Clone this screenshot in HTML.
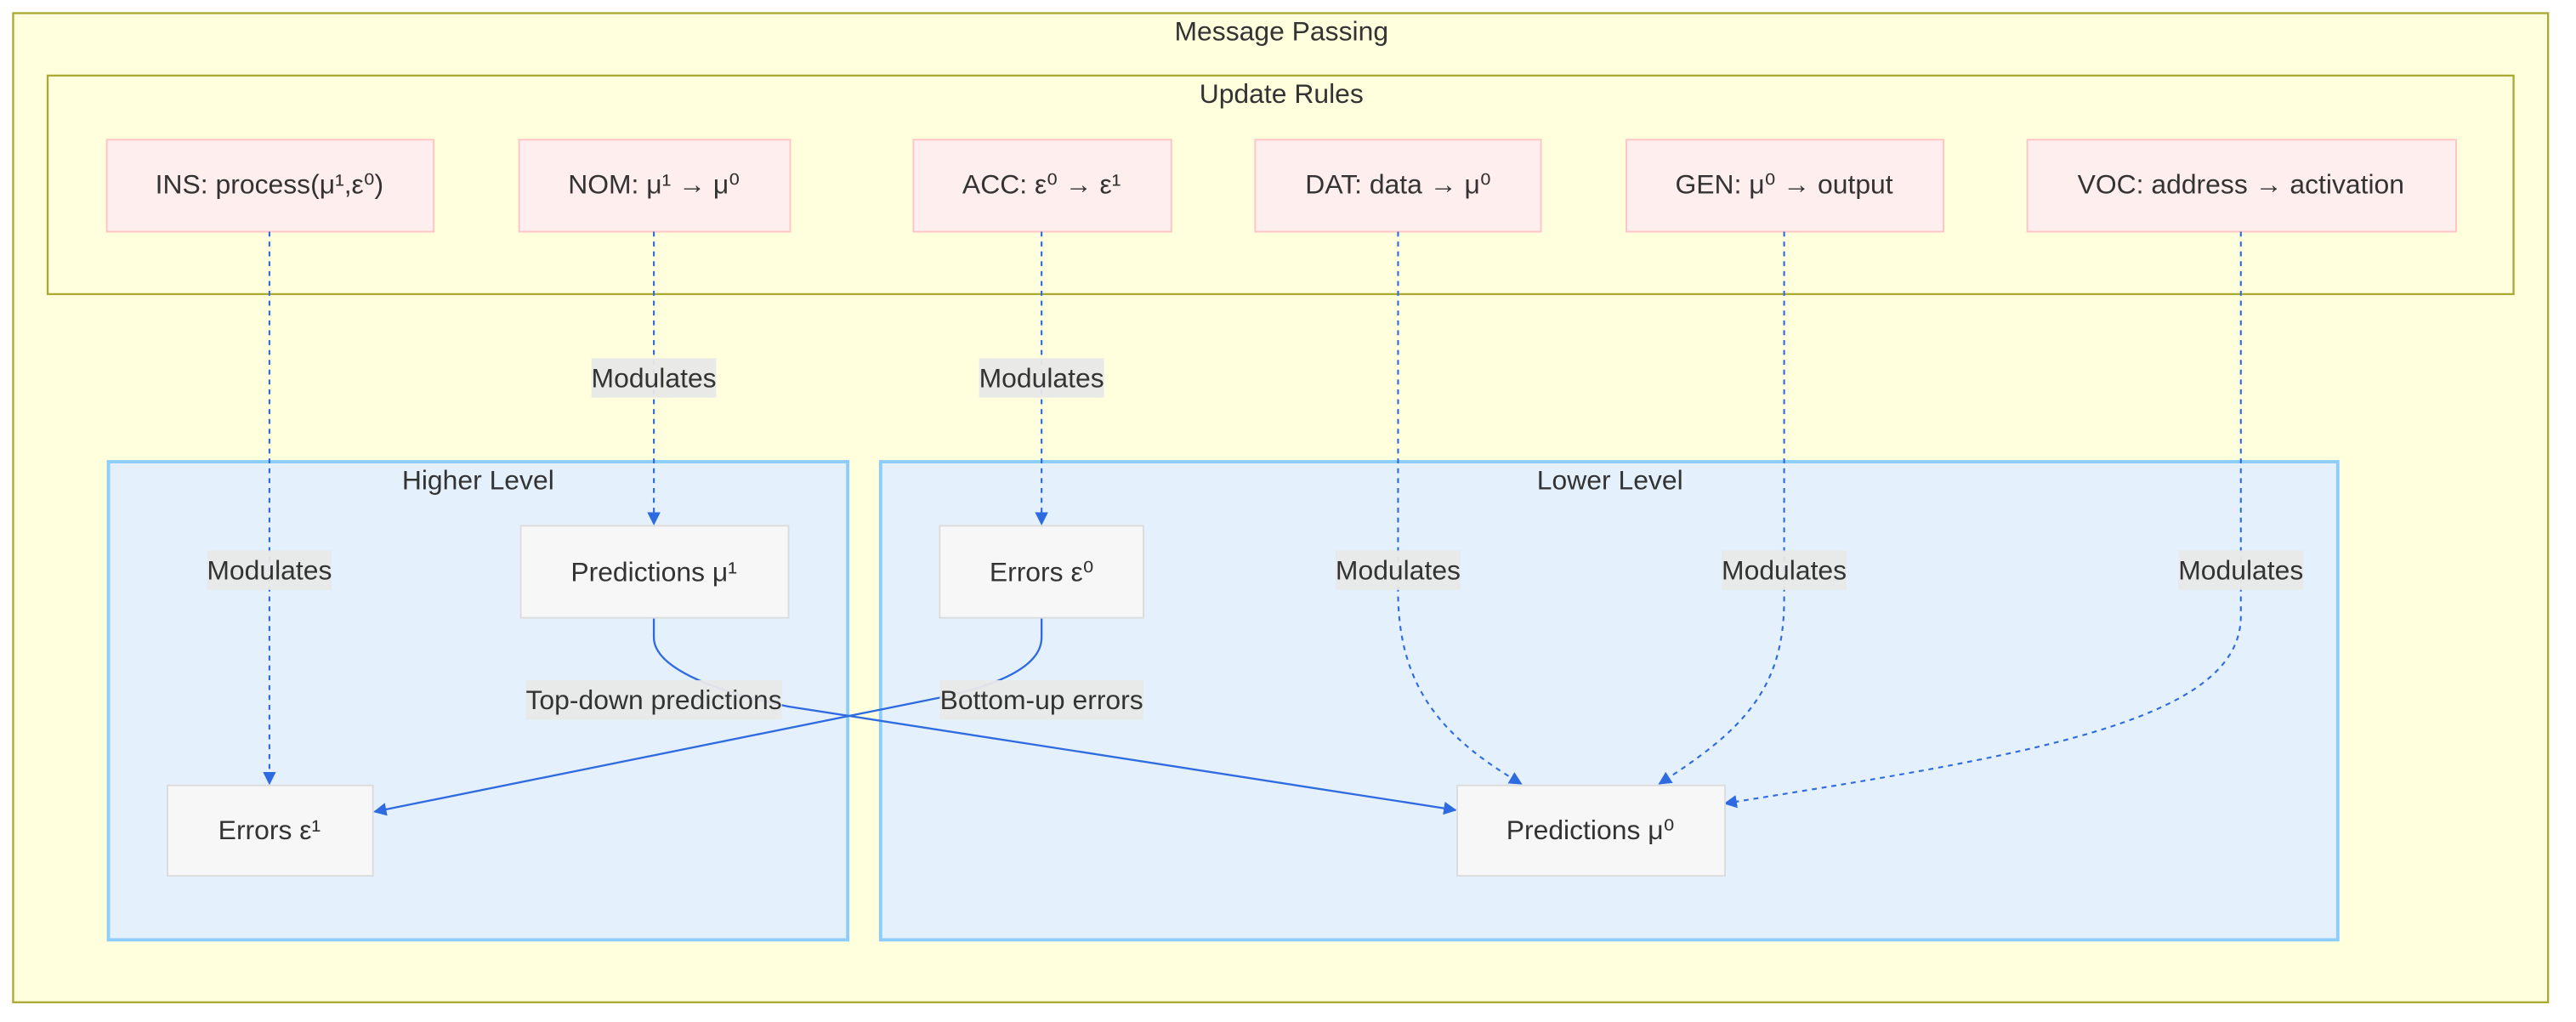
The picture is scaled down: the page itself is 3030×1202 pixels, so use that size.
<!DOCTYPE html>
<html><head><meta charset="utf-8"><style>
html,body{margin:0;padding:0;background:#fff;}
svg{display:block;}
text{font-family:"Liberation Sans",Arial,sans-serif;fill:#333;font-size:16.5px;text-anchor:middle;dominant-baseline:central;}
.cl{fill:#ffffde;stroke:#aaaa33;stroke-width:1.2;}
.lv{fill:#e4f1fd;stroke:#8ccdfb;stroke-width:2;}
.pk{fill:#ffeeee;stroke:#ffc4c4;stroke-width:1;}
.gy{fill:#f7f7f8;stroke:#dcdcdc;stroke-width:1;}
.lb{fill:#e8e8e8;opacity:0.95;}
.d{fill:none;stroke:#2f6be0;stroke-width:1.1;stroke-dasharray:3 3;}
.s{fill:none;stroke:#2f6be0;stroke-width:1.2;}
</style></head><body>
<svg width="3030" height="1202" viewBox="0 0 1568 622" preserveAspectRatio="none" xmlns="http://www.w3.org/2000/svg">
<defs><marker id="a" viewBox="0 0 10 10" refX="9" refY="5" markerWidth="8" markerHeight="8" markerUnits="userSpaceOnUse" orient="auto"><path d="M0,0L10,5L0,10z" fill="#2f6be0"/></marker></defs>
<rect class="cl" x="8" y="8" width="1543" height="602"/>
<text x="780" y="19">Message Passing</text>
<rect class="cl" x="29" y="46" width="1501" height="133"/>
<text x="780" y="57">Update Rules</text>
<rect class="lv" x="66" y="281" width="450" height="291"/>
<text x="291" y="292">Higher Level</text>
<rect class="lv" x="536" y="281" width="887" height="291"/>
<text x="980" y="292">Lower Level</text>

<rect class="pk" x="65" y="85" width="199" height="56"/><text x="164" y="112">INS: process(μ¹,ε⁰)</text>
<rect class="pk" x="316" y="85" width="165" height="56"/><text x="398" y="112">NOM: μ¹ → μ⁰</text>
<rect class="pk" x="556" y="85" width="157" height="56"/><text x="634" y="112">ACC: ε⁰ → ε¹</text>
<rect class="pk" x="764" y="85" width="174" height="56"/><text x="851" y="112">DAT: data → μ⁰</text>
<rect class="pk" x="990" y="85" width="193" height="56"/><text x="1086" y="112">GEN: μ⁰ → output</text>
<rect class="pk" x="1234" y="85" width="261" height="56"/><text x="1364" y="112">VOC: address → activation</text>

<path class="d" d="M164,141V477" marker-end="url(#a)"/>
<path class="d" d="M398,141V319" marker-end="url(#a)"/>
<path class="d" d="M634,141V319" marker-end="url(#a)"/>
<path class="d" d="M851,141V360C851,420 880,450 926,477" marker-end="url(#a)"/>
<path class="d" d="M1086,141V365C1086,420 1060,445 1010,477" marker-end="url(#a)"/>
<path class="d" d="M1364,141V375C1364,440 1230,460 1050,489" marker-end="url(#a)"/>
<path class="s" d="M398,376V388C398,405 430,420 480,430L886,493" marker-end="url(#a)"/>
<path class="s" d="M634,376V388C634,405 610,416 575,424L228,494" marker-end="url(#a)"/>

<rect class="gy" x="317" y="320" width="163" height="56"/><text x="398" y="348">Predictions μ¹</text>
<rect class="gy" x="572" y="320" width="124" height="56"/><text x="634" y="348">Errors ε⁰</text>
<rect class="gy" x="102" y="478" width="125" height="55"/><text x="164" y="505">Errors ε¹</text>
<rect class="gy" x="887" y="478" width="163" height="55"/><text x="968" y="505">Predictions μ⁰</text>

<rect class="lb" x="360" y="218" width="76" height="24"/><text x="398" y="230">Modulates</text>
<rect class="lb" x="596" y="218" width="76" height="24"/><text x="634" y="230">Modulates</text>
<rect class="lb" x="126" y="335" width="76" height="24"/><text x="164" y="347">Modulates</text>
<rect class="lb" x="813" y="335" width="76" height="24"/><text x="851" y="347">Modulates</text>
<rect class="lb" x="1048" y="335" width="76" height="24"/><text x="1086" y="347">Modulates</text>
<rect class="lb" x="1326" y="335" width="76" height="24"/><text x="1364" y="347">Modulates</text>
<rect class="lb" x="320" y="414" width="156" height="24"/><text x="398" y="426">Top-down predictions</text>
<rect class="lb" x="572" y="414" width="124" height="24"/><text x="634" y="426">Bottom-up errors</text>
</svg>
</body></html>
